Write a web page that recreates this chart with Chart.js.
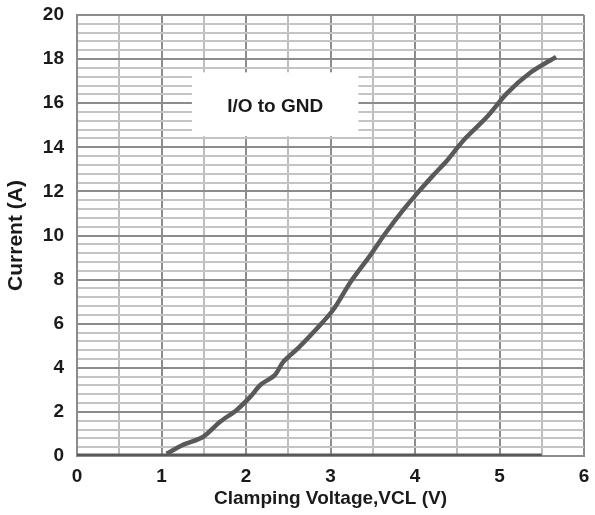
<!DOCTYPE html>
<html>
<head>
<meta charset="utf-8">
<script src="https://cdn.jsdelivr.net/npm/chart.js@4.4.0/dist/chart.umd.min.js"></script>
<style>
html,body{margin:0;padding:0;background:#fff;}
#wrap{width:595px;height:515px;position:relative;}
</style>
</head>
<body>
<div id="wrap"><canvas id="c" width="595" height="515"></canvas></div>
<script>
// Data
const voltage = [1.06, 1.25, 1.49, 1.69, 1.89, 2.05, 2.17, 2.34, 2.44, 2.62, 2.82, 3.03, 3.23, 3.47, 3.65, 3.88, 4.06, 4.22, 4.38, 4.57, 4.85, 5.09, 5.36, 5.67];
const current = [0.1, 0.5, 0.86, 1.54, 2.09, 2.68, 3.22, 3.67, 4.26, 4.9, 5.7, 6.62, 7.85, 9.1, 10.1, 11.25, 12.06, 12.75, 13.4, 14.3, 15.37, 16.46, 17.37, 18.1];
const baseVoltage = [0, 5.5];
const baseCurrent = [0, 0];
const xTicks = [0, 1, 2, 3, 4, 5, 6];
const yTicks = [0, 2, 4, 6, 8, 10, 12, 14, 16, 18, 20];
const seriesLabel = 'I/O to GND';
const xTitle = 'Clamping Voltage,VCL (V)';
const yTitle = 'Current (A)';

// Annotation box (data coordinates)
const labelBox = {x0: 1.36, x1: 3.33, y0: 14.5, y1: 17.4};

const curve = voltage.map((v, i) => ({x: v, y: current[i]}));
const base = baseVoltage.map((v, i) => ({x: v, y: baseCurrent[i]}));

const isMult = (v, m) => Math.abs(v / m - Math.round(v / m)) < 1e-6;
const FONT = '"Liberation Sans", Arial, sans-serif';

const boxPlugin = {
  id: 'boxPlugin',
  beforeDatasetsDraw(chart) {
    const {ctx, scales: {x, y}} = chart;
    const l = x.getPixelForValue(labelBox.x0), r = x.getPixelForValue(labelBox.x1);
    const t = y.getPixelForValue(labelBox.y1), b = y.getPixelForValue(labelBox.y0);
    ctx.save();
    ctx.fillStyle = '#ffffff';
    ctx.fillRect(l, t, r - l, b - t);
    ctx.fillStyle = '#1a1a1a';
    ctx.font = 'bold 19px ' + FONT;
    ctx.textAlign = 'center';
    ctx.textBaseline = 'middle';
    ctx.fillText(seriesLabel, (l + r) / 2, (t + b) / 2 + 2);
    ctx.restore();
  }
};

new Chart(document.getElementById('c'), {
  type: 'scatter',
  data: {
    datasets: [
      {label: seriesLabel, data: curve, showLine: true, borderColor: '#595959', borderWidth: 4.5, pointRadius: 0, tension: 0.3, fill: false},
      {label: 'base', data: base, showLine: true, borderColor: '#595959', borderWidth: 5, pointRadius: 0, fill: false}
    ]
  },
  options: {
    responsive: false,
    animation: false,
    layout: {padding: {left: 0, right: 11, top: 15, bottom: 5}},
    plugins: {legend: {display: false}, tooltip: {enabled: false}},
    scales: {
      x: {
        type: 'linear', min: 0, max: 6,
        afterFit(s) { s.height = 54; s.paddingLeft = 0; s.paddingRight = 0; },
        ticks: {
          stepSize: 0.5, padding: 9, color: '#1a1a1a', maxRotation: 0, autoSkip: false,
          font: {family: FONT, size: 19, weight: 'bold'},
          callback: (v) => (xTicks.some(t => Math.abs(t - v) < 1e-6) ? String(v) : '')
        },
        grid: {
          drawTicks: false,
          lineWidth: 2,
          color: (c) => (c.tick && isMult(c.tick.value, 1) ? '#8c8c8c' : '#bdbdbd')
        },
        border: {display: true, color: '#8c8c8c', width: 2},
        title: {display: true, text: xTitle, color: '#1a1a1a', padding: {top: 0, bottom: 0},
          font: {family: FONT, size: 19, weight: 'bold'}}
      },
      y: {
        type: 'linear', min: 0, max: 20,
        afterFit(s) { s.width = 77; s.paddingTop = 0; s.paddingBottom = 0; },
        ticks: {
          stepSize: 0.4, padding: 13, color: '#1a1a1a', autoSkip: false,
          font: {family: FONT, size: 19, weight: 'bold'},
          callback: (v) => (yTicks.some(t => Math.abs(t - v) < 1e-6) ? String(Math.round(v)) : '')
        },
        grid: {
          drawTicks: false,
          lineWidth: 2,
          color: (c) => (c.tick && isMult(c.tick.value, 2) ? '#8c8c8c' : '#c4c4c4')
        },
        border: {display: true, color: '#8c8c8c', width: 2},
        title: {display: true, text: yTitle, color: '#1a1a1a', padding: {top: 4, bottom: 0},
          font: {family: FONT, size: 21, weight: 'bold'}}
      }
    }
  },
  plugins: [boxPlugin]
});
</script>
</body>
</html>
